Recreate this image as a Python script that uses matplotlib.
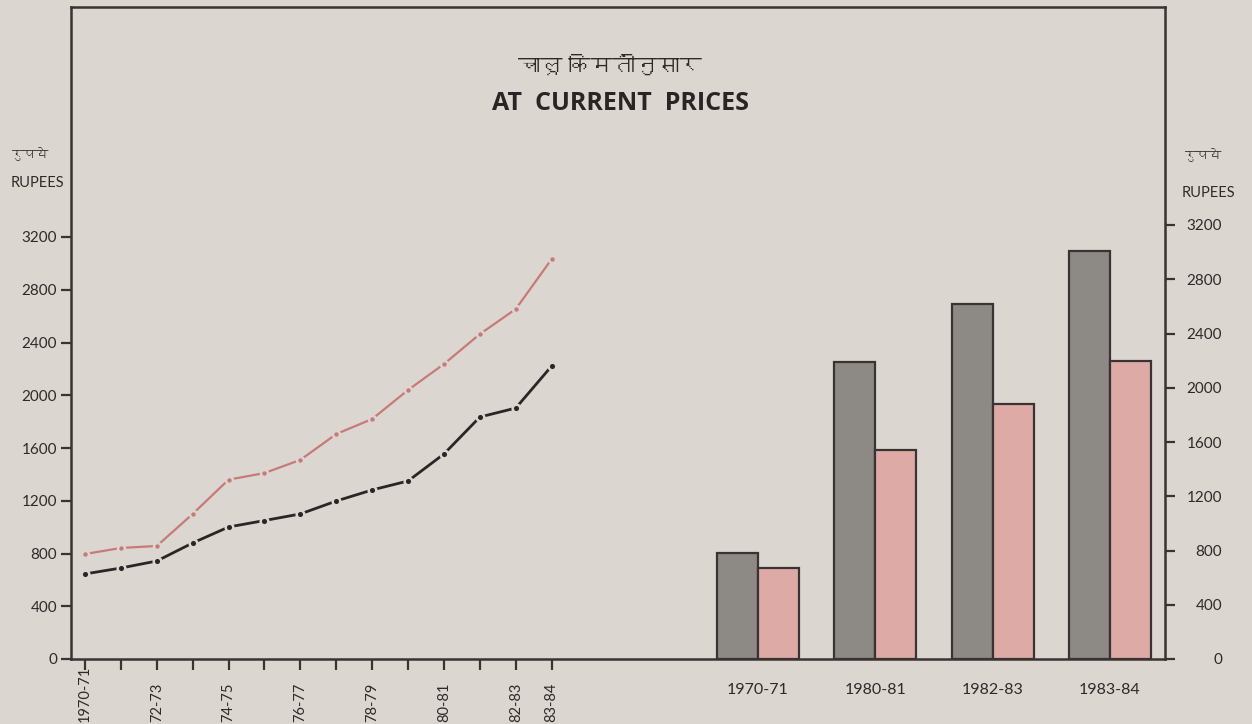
import matplotlib
matplotlib.use("Agg")
import matplotlib.pyplot as plt
from matplotlib import font_manager as fm
from matplotlib.ft2font import FT2Font

# data
years = ['1970-71', '71-72', '72-73', '73-74', '74-75', '75-76', '76-77',
         '77-78', '78-79', '79-80', '80-81', '81-82', '82-83', '83-84']
year_labels = ['1970-71', '', '72-73', '', '74-75', '', '76-77',
               '', '78-79', '', '80-81', '', '82-83', '83-84']
red_line = [796, 842, 857, 1100, 1360, 1410, 1510, 1706, 1820, 2040, 2237, 2464, 2654, 3033]
black_line = [645, 690, 743, 880, 1001, 1050, 1100, 1198, 1282, 1350, 1555, 1835, 1903, 2222]

bar_years = ['1970-71', '1980-81', '1982-83', '1983-84']
grey_bars = [785, 2190, 2620, 3010]
pink_bars = [670, 1540, 1880, 2200]

y_ticks = [0, 400, 800, 1200, 1600, 2000, 2400, 2800, 3200]

BG = '#dcd6d1'
INK = '#3a3333'
TXT = '#2e2a2a'
RED = '#c77a78'
BLACK = '#2b2626'
GREY = '#8d8985'
PINK = '#ddaaa5'


def find_family(ch):
    # look for an installed font that has the glyph
    for f in fm.fontManager.ttflist:
        try:
            if ord(ch) in FT2Font(f.fname).get_charmap():
                return f.name
        except Exception:
            pass
    return None


deva = find_family('\u0915')
families = ['Lato']
if deva:
    families.append(deva)
families.append('DejaVu Sans')
plt.rcParams['font.family'] = families

W, H = 1252, 724
fig = plt.figure(figsize=(W / 100, H / 100), dpi=100, facecolor=BG)

left_px, right_px, top_px, bottom_px = 71, 1165, 7, 659
rect = [left_px / W, 1 - bottom_px / H, (right_px - left_px) / W, (bottom_px - top_px) / H]

# ---- left: line chart ----
ax_l = fig.add_axes(rect)
ax_l.set_facecolor('none')
x = list(range(len(years)))
ax_l.plot(x, red_line, color=RED, lw=1.6, marker='o', ms=5, mfc=RED, mec=BG, mew=1.8,
          solid_capstyle='butt', zorder=3)
ax_l.plot(x, black_line, color=BLACK, lw=2.0, marker='o', ms=5.5, mfc=BLACK, mec=BG, mew=1.8,
          solid_capstyle='butt', zorder=3)

step = 35.9
ax_l.set_xlim((left_px - 85) / step, (right_px - 85) / step)
ax_l.set_ylim(0, (bottom_px - top_px) * 3200 / 422)
ax_l.set_xticks(x)
ax_l.set_xticklabels(year_labels, rotation=90, fontsize=10.5, va='bottom', color=TXT)
ax_l.set_yticks(y_ticks)
ax_l.set_yticklabels([str(v) for v in y_ticks], fontsize=11, color=TXT)
ax_l.tick_params(axis='y', direction='out', length=7, width=1.6, color=INK, pad=3)
ax_l.tick_params(axis='x', direction='out', length=8, width=1.6, color=INK, pad=37)
for s in ['left', 'top', 'bottom']:
    ax_l.spines[s].set_color(INK)
    ax_l.spines[s].set_linewidth(1.8)
ax_l.spines['right'].set_visible(False)

# ---- right: bar chart ----
ax_r = fig.add_axes(rect)
ax_r.set_facecolor('none')
gap = 117.3
xb = list(range(len(bar_years)))
bw = 0.35
ax_r.bar([k - bw / 2 for k in xb], grey_bars, width=bw, color=GREY, edgecolor=INK, lw=1.6)
ax_r.bar([k + bw / 2 for k in xb], pink_bars, width=bw, color=PINK, edgecolor=INK, lw=1.6)
ax_r.set_xlim((left_px - 758) / gap, (right_px - 758) / gap)
ax_r.set_ylim(0, (bottom_px - top_px) * 3200 / 434)
ax_r.set_xticks(xb)
ax_r.set_xticklabels(bar_years, fontsize=11.5, color=TXT)
ax_r.tick_params(axis='x', length=0, pad=17)
ax_r.yaxis.tick_right()
ax_r.set_yticks(y_ticks)
ax_r.set_yticklabels([str(v) for v in y_ticks], fontsize=11, color=TXT, ha='right')
ax_r.tick_params(axis='y', direction='out', length=7, width=1.6, color=INK, pad=34)
for s in ['left', 'top', 'bottom']:
    ax_r.spines[s].set_visible(False)
ax_r.spines['right'].set_color(INK)
ax_r.spines['right'].set_linewidth(1.8)

# ---- titles and unit labels ----
fig.text(610 / W, 1 - 66 / H, 'चालू किमतींनुसार', ha='center', va='center',
         fontsize=16, color=TXT)
fig.text(621 / W, 1 - 103 / H, 'AT  CURRENT  PRICES', ha='center', va='center',
         fontsize=18, fontweight='bold', color='#2a2525', family=['Open Sans', 'DejaVu Sans'])
fig.text(30 / W, 1 - 154 / H, 'रुपये', ha='center', va='center', fontsize=9, color=TXT)
fig.text(37 / W, 1 - 183 / H, 'RUPEES', ha='center', va='center', fontsize=10.5, color=TXT)
fig.text(1203 / W, 1 - 155 / H, 'रुपये', ha='center', va='center', fontsize=9, color=TXT)
fig.text(1208 / W, 1 - 193 / H, 'RUPEES', ha='center', va='center', fontsize=10.5, color=TXT)

fig.savefig('out.png', dpi=100, facecolor=BG)
